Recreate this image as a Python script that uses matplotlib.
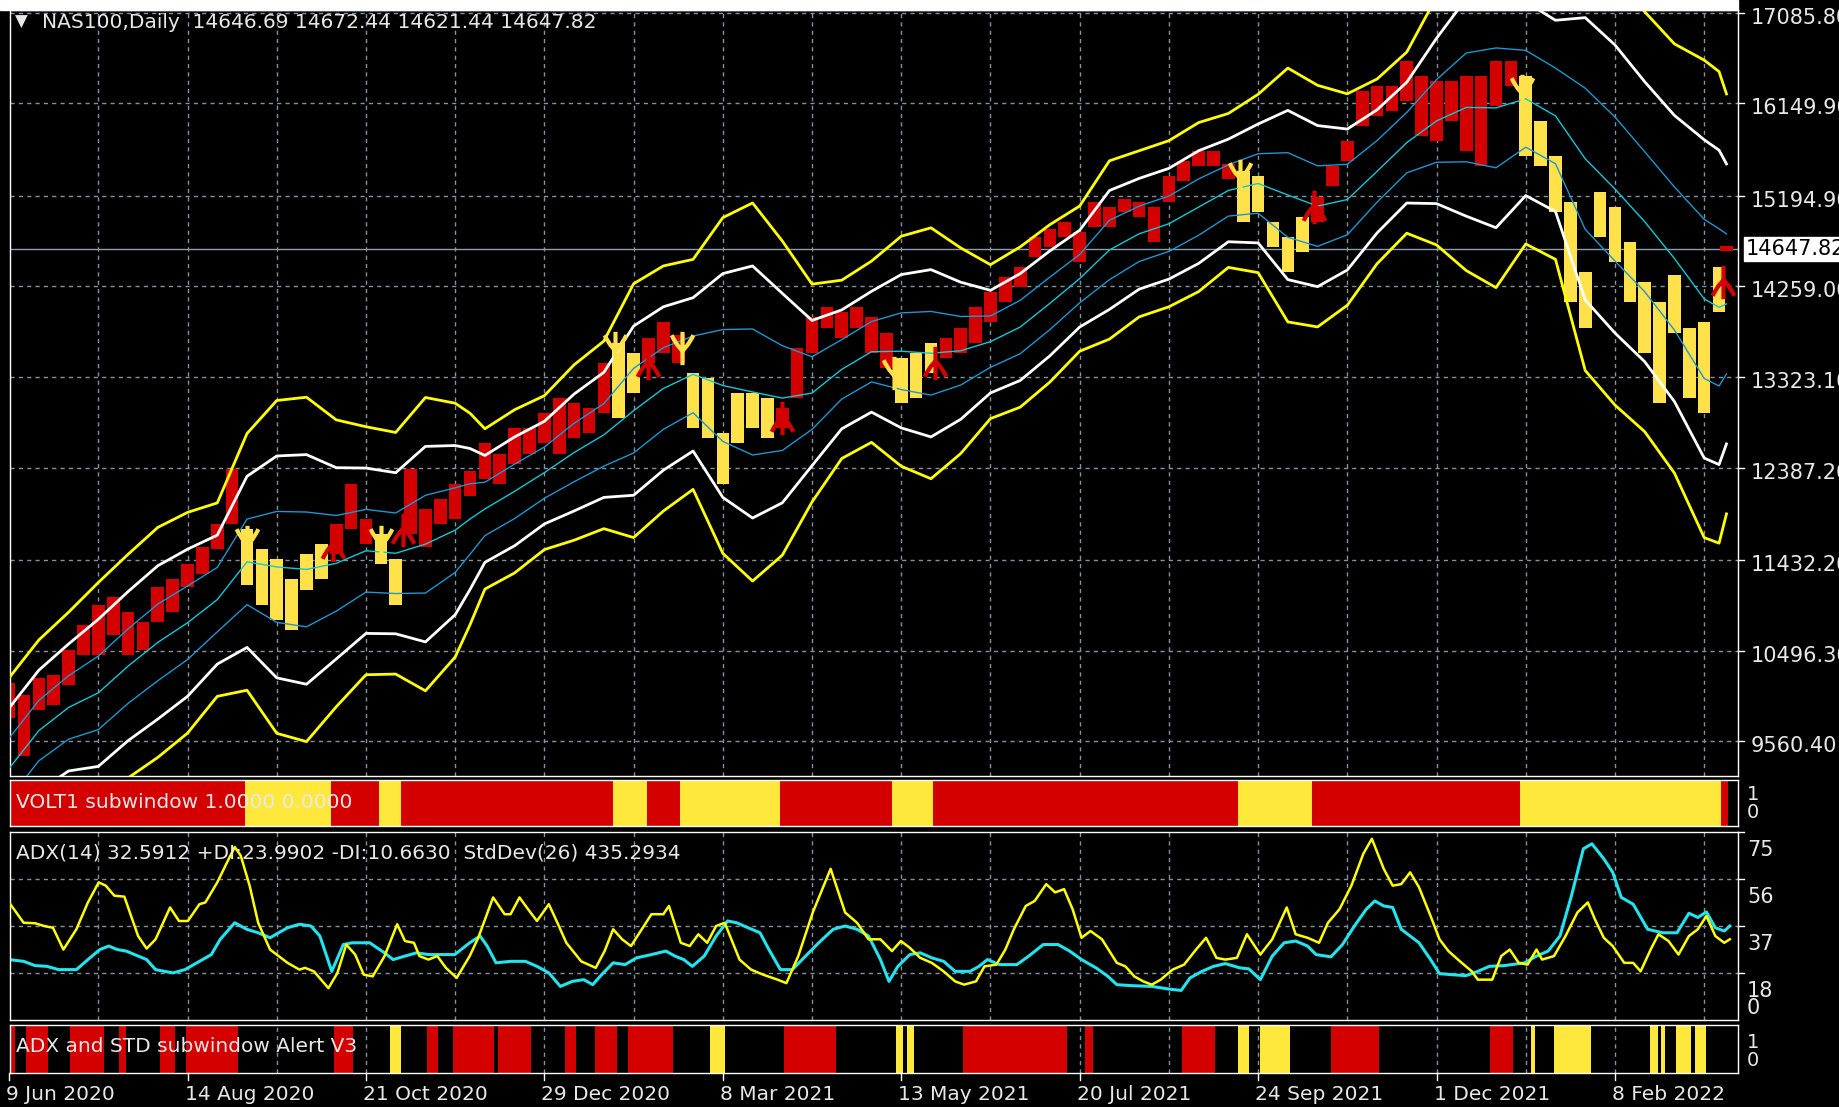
import numpy as np
import matplotlib.pyplot as plt
from matplotlib.path import Path
from matplotlib.transforms import offset_copy, blended_transform_factory
from matplotlib.patches import Rectangle

plt.rcParams['font.family'] = ['DejaVu Sans']

W, H = 1840, 1107

# ---- main window: band centre line and band spacing ----
band_bar = [0, 8, 16, 24, 32, 40, 48, 56, 64, 72, 80, 88, 96, 104, 112, 120, 124, 128,
            136, 144, 152, 160, 168, 176, 184, 192, 200, 208, 216, 224, 232, 240, 248,
            256, 264, 272, 280, 288, 296, 304, 312, 320, 328, 336, 344, 352, 360, 368,
            376, 384, 392, 400, 408, 416, 424, 432, 440, 448, 456, 460, 462]
band_mid = [9279, 9670, 9909, 10060, 10336, 10581, 10784, 11023, 11413, 11361, 11335,
            11398, 11528, 11502, 11596, 11741, 11856, 11960, 12142, 12335, 12543, 12725,
            12975, 13204, 13350, 13235, 13168, 13105, 13157, 13402, 13584, 13589, 13568,
            13594, 13688, 13839, 14084, 14339, 14635, 14802, 14906, 15078, 15250, 15322,
            15203, 15088, 15156, 15447, 15744, 15968, 16108, 16103, 16197, 16020, 15577,
            15265, 14927, 14547, 14130, 14042, 14078]
band_dev = [312, 312, 328, 380, 385, 396, 380, 333, 442, 573, 593, 494, 427, 416, 505,
            437, 364, 276, 281, 265, 302, 323, 437, 422, 396, 578, 651, 541, 375, 307,
            312, 396, 432, 354, 265, 276, 271, 250, 307, 286, 286, 291, 265, 307, 437,
            416, 364, 318, 312, 427, 562, 619, 500, 494, 729, 744, 723, 739, 822, 812, 723]

# price bars (every 4th bar), high / low
bar_x = list(range(0, 461, 4)) + [462]
bar_hi = [10164, 10034, 10216, 10242, 10503, 10763, 10971, 11049, 10893, 10789, 11153,
          11231, 11387, 11570, 11804, 12376, 11752, 11543, 11439, 11231, 11492, 11596,
          11804, 12220, 11856, 11700, 11439, 12376, 11960, 12064, 12220, 12350, 12637,
          12532, 12793, 12793, 12949, 13105, 13053, 13001, 13469, 13677, 13573, 13730,
          13886, 13756, 13365, 13313, 12741, 13157, 13157, 13105, 13001, 13625, 13938,
          14042, 13990, 14042, 13938, 13782, 13521, 13573, 13677, 13730, 13834, 14042,
          14198, 14354, 14458, 14771, 14849, 14927, 14823, 15135, 15083, 15161, 15135,
          15083, 15395, 15551, 15656, 15656, 15525, 15447, 15395, 14927, 14771, 14979,
          15187, 15499, 15760, 16280, 16332, 16332, 16592, 16436, 16384, 16384, 16436,
          16436, 16592, 16592, 16436, 15968, 15603, 15135, 14406, 15239, 15083, 14719,
          14302, 14094, 14380, 13834, 13886, 14458, 14672]
bar_lo = [9800, 9409, 9878, 9930, 10138, 10451, 10451, 10659, 10451, 10503, 10789,
          10893, 11153, 11283, 11544, 11804, 11179, 10971, 10815, 10711, 11127, 11231,
          11492, 11752, 11596, 11387, 10971, 11700, 11570, 11804, 11856, 12090, 12272,
          12220, 12428, 12532, 12637, 12532, 12689, 12741, 12949, 12897, 13157, 13469,
          13573, 13469, 12793, 12689, 12220, 12637, 12793, 12689, 12793, 13105, 13573,
          13834, 13730, 13834, 13573, 13417, 13053, 13105, 13365, 13521, 13573, 13677,
          13886, 14094, 14250, 14563, 14667, 14771, 14510, 14875, 14875, 15031, 14979,
          14719, 15135, 15343, 15499, 15499, 15369, 14927, 15031, 14667, 14406, 14615,
          14927, 15291, 15551, 15916, 16020, 16072, 16176, 15812, 15760, 15968, 15656,
          15499, 16124, 16332, 15603, 15499, 15031, 14094, 13834, 14771, 14510, 14094,
          13573, 13053, 13782, 13105, 12949, 13990, 14621]

last_price = 14647.82
price_ticks = [17085.80, 16149.90, 15194.90, 14259.00, 13323.10, 12387.20, 11432.20,
               10496.30, 9560.40]

dn_bar = [64, 100, 163, 181, 238, 331, 407]
dn_val = [11621, 11621, 13625, 13625, 13365, 15400, 16280]
up_bar = [87, 106, 172, 208, 249, 351, 461]
up_val = [11585, 11741, 13469, 12897, 13469, 15083, 14302]

# ---- VOLT1 subwindow state ----
volt_start = [0, 64, 87, 100, 106, 163, 172, 181, 208, 238, 249, 331, 351, 407, 461]
volt_end = [63, 86, 99, 105, 162, 171, 180, 207, 237, 248, 330, 350, 406, 460, 462]
volt_col = ['r', 'y', 'r', 'y', 'r', 'y', 'r', 'y', 'r', 'y', 'r', 'y', 'r', 'y', 'r']

# ---- ADX / StdDev subwindow ----
adx_x = [0, 3.9, 7.0, 9.4, 11.8, 14.6, 18.1, 21.2, 24.1, 26.0, 28.3, 31.0, 34.7, 37.0,
         39.4, 43.3, 45.7, 48.1, 51.2, 52.8, 56.0, 59.1, 60.7, 62.3, 64.7, 67.0, 70.2,
         74.9, 78.1, 79.6, 82.0, 85.9, 88.3, 90.7, 93.1, 95.4, 97.8, 101.0, 104.4, 106.5,
         108.9, 110.4, 112.8, 115.2, 117.5, 120.4, 123.9, 126.2, 130.2, 133.3, 134.9,
         137.3, 139.6, 142.0, 145.2, 147.5, 149.9, 153.9, 157.8, 160.2, 162.5, 164.9,
         167.3, 169.6, 172.8, 176.0, 177.5, 180.7, 183.1, 185.4, 187.8, 190.2, 192.5,
         196.5, 199.6, 202.8, 206.7, 209.1, 212.3, 216.2, 221.0, 224.9, 228.1, 231.2,
         234.4, 237.5, 239.9, 242.3,
         245.1, 248.2, 251.4, 254.5, 256.9, 260.1, 262.4, 265.6, 268.0, 270.3, 273.5,
         275.9, 279.0, 281.4, 283.8, 286.1, 288.5, 290.9, 294.0, 298.0, 300.3, 302.7,
         305.1, 307.4, 309.8, 313.0, 316.1, 319.3, 322.0, 324.8, 327.2, 330.3, 333.0,
         336.6, 339.8, 343.7, 346.1, 349.3, 352.4, 354.8, 357.9, 361.1, 364.3, 366.6,
         369.8, 372.2, 374.5, 376.9, 379.3, 382.4, 384.8, 387.2, 390.3, 393.5, 395.1,
         399.0, 401.4, 403.7, 406.1, 408.5, 410.9, 412.4, 415.6, 418.7, 421.9, 424.7,
         426.6, 429.0, 431.4, 434.5, 436.9, 438.9, 441.6, 443.7, 446.4, 449.1, 451.9,
         454.3, 456.6, 459.0, 461.4, 462.9]
adx_y = [46.9, 38.8, 38.6, 37.5, 36.8, 28.1, 36.2, 46.9, 54.9, 53.6, 49.6, 49.2, 33.5,
         28.5, 32.2, 44.9, 39.5, 39.5, 46.2, 46.9, 54.9, 64.3, 69.0, 65.6, 53.6, 38.8,
         28.1, 22.8, 20.1, 20.8, 19.4, 12.7, 18.7, 30.1, 26.1, 18.1, 17.4, 25.5, 38.2,
         31.5, 30.8, 25.5, 24.1, 25.5, 20.8, 16.8, 25.5, 32.8, 48.9, 42.2, 42.2, 48.9,
         44.2, 39.5, 46.2, 38.8, 30.8, 23.4, 20.8, 27.5, 36.2, 32.2, 29.5, 34.8, 42.2,
         42.2, 45.5, 30.8, 29.5, 34.2, 30.8, 37.5, 38.8, 24.1, 20.1, 18.1, 16.1, 14.7,
         25.5, 42.9, 60.3, 42.9, 38.8, 32.2, 32.2, 27.5, 31.5, 28.8,
         24.8, 22.8, 19.4, 15.4, 14.1, 15.4, 21.4, 22.1, 28.1, 36.2, 45.5, 47.5, 54.2,
         50.9, 52.2, 44.2, 32.8, 35.5, 32.2, 22.8, 21.4, 17.4, 15.4, 14.1, 16.1, 20.1,
         22.1, 28.1, 32.8, 24.8, 24.1, 24.8, 34.2, 26.1, 32.2, 44.9, 34.2, 32.8, 30.8,
         38.8, 44.2, 53.6, 66.3, 72.3, 60.3, 53.6, 54.2, 58.9, 52.9, 41.5, 32.2, 27.5,
         23.4, 19.4, 16.1, 16.1, 25.5, 28.1, 22.8, 22.1, 28.1, 24.1, 25.5, 33.5, 42.9,
         46.9, 40.2, 32.8, 29.5, 22.8, 22.8, 19.4, 28.1, 34.2, 31.5, 26.1, 33.5, 36.2,
         41.5, 33.5, 30.8, 32.2]
std_x = [0, 3.9, 7.0, 10.2, 13.3, 18.1, 21.2, 24.4, 26.8, 29.1, 31.5, 34.7, 37.0, 39.4,
         41.8, 44.1, 47.3, 51.2, 54.4, 56.8, 60.7, 63.9, 67.0, 70.2, 72.5, 74.9, 78.1,
         81.2, 83.6, 86.8, 89.9, 92.3, 97.0, 101.0, 103.3, 106.5, 109.6, 112.8, 115.9,
         119.9, 123.9, 126.7, 128.6, 131.0, 134.9, 138.9, 142.0, 145.2, 148.3, 151.5,
         154.6, 157.0, 159.4, 162.5, 165.7, 168.8, 172.8, 176.7, 179.1, 181.5, 183.8,
         187.0, 190.2, 193.3, 195.7, 198.8, 202.0, 204.4, 207.5, 210.7, 213.8, 217.8,
         221.7, 224.9, 228.1, 231.2, 234.4, 236.7, 239.1, 242.3,
         245.1, 248.2, 251.4, 254.5, 258.5, 260.9, 263.2, 266.4, 271.1, 274.3, 278.2,
         282.2, 285.3, 288.5, 292.4, 295.6, 298.0, 301.9, 307.4, 312.2, 315.3, 317.7,
         320.9, 324.0, 327.2, 331.1, 333.5, 336.6, 339.8, 343.0, 346.1, 349.3, 351.6,
         355.6, 358.7, 361.9, 365.1, 367.4, 369.8, 372.2, 374.5, 379.3, 382.4, 384.8,
         387.9, 391.9, 395.1, 398.2, 402.2, 407.7, 410.9, 414.0, 417.2, 420.3, 423.5,
         425.8, 429.0, 431.4, 433.7, 436.9, 440.8, 444.8, 448.7, 451.9, 454.3, 456.6,
         459.0, 461.4, 462.9]
std_y = [24.1, 23.4, 21.7, 21.4, 20.1, 20.1, 24.1, 28.1, 29.5, 28.1, 27.5, 25.5, 24.1,
         20.1, 19.4, 18.8, 20.1, 23.4, 26.1, 32.2, 38.8, 36.2, 34.8, 32.8, 34.8, 36.8,
         38.2, 37.5, 33.5, 19.4, 30.1, 30.8, 30.8, 26.8, 24.1, 25.5, 26.8, 26.1, 26.1,
         26.1, 30.8, 33.5, 29.5, 22.8, 23.4, 23.4, 21.4, 18.8, 13.4, 15.4, 16.1, 14.1,
         18.1, 22.8, 22.1, 24.8, 26.1, 27.5, 25.5, 24.1, 21.4, 25.5, 33.5, 39.5, 38.8,
         36.8, 34.8, 28.1, 20.1, 20.1, 24.8, 30.8, 36.2, 37.5, 36.2, 33.5, 24.1, 15.4,
         21.4, 26.1,
         26.8, 24.8, 23.4, 19.4, 19.4, 21.4, 24.1, 22.1, 22.1, 25.5, 30.1, 30.1, 27.5,
         24.1, 20.8, 17.4, 14.1, 13.7, 13.4, 12.3, 11.8, 16.8, 19.4, 21.4, 22.5, 20.8,
         20.4, 16.1, 25.5, 30.8, 31.5, 29.5, 26.1, 25.2, 30.1, 37.5, 44.2, 47.5, 45.5,
         44.9, 36.2, 30.8, 24.1, 18.5, 18.1, 17.7, 19.4, 21.4, 21.7, 22.8, 25.5, 27.5,
         33.5, 49.6, 68.3, 70.3, 64.3, 58.9, 48.9, 46.2, 36.2, 34.8, 34.8, 42.6, 40.9,
         43.1, 36.8, 35.5, 37.5]

# ---- alert subwindow ----
alert_start = [0, 5, 17, 30, 41, 48, 88, 103, 113, 120, 132, 150, 158, 167, 189, 209,
               239, 242, 257, 290, 316, 331, 337, 356, 399, 410, 416, 442, 445, 449, 454]
alert_end = [1, 10, 25, 31, 44, 61, 92, 105, 115, 130, 140, 152, 163, 178, 192, 222,
             240, 243, 284, 291, 324, 333, 344, 368, 404, 410, 425, 443, 445, 452, 456]
alert_col = ['r', 'r', 'r', 'r', 'r', 'r', 'r', 'y', 'r', 'r', 'r', 'r', 'r', 'r', 'y',
             'r', 'y', 'y', 'r', 'r', 'r', 'y', 'y', 'r', 'r', 'y', 'y', 'y', 'y', 'y', 'y']

date_bars = [0, 48, 96, 144, 192, 240, 288, 336, 384, 432]
date_labels = ['9 Jun 2020', '14 Aug 2020', '21 Oct 2020', '29 Dec 2020', '8 Mar 2021',
               '13 May 2021', '20 Jul 2021', '24 Sep 2021', '1 Dec 2021', '8 Feb 2022']

RED = '#d40000'
YEL = '#ffe83c'
BARYEL = '#ffe14a'
GRID = '#86909e'
TXT = '#e8e8e8'
pal = {'r': RED, 'y': YEL}

fig = plt.figure(figsize=(W / 100, H / 100), dpi=100, facecolor='black')


def box(x0, y0, x1, y1):
    # pixel box (top-left origin) -> figure fraction
    return [x0 / W, 1 - y1 / H, (x1 - x0) / W, (y1 - y0) / H]


ax = fig.add_axes(box(10, 10, 1738, 776))
ax_v = fig.add_axes(box(10, 780, 1738, 826))
ax_a = fig.add_axes(box(10, 832, 1738, 1020))
ax_s = fig.add_axes(box(10, 1025, 1738, 1073))

XL = (0.24, 465.1)
for a in (ax, ax_v, ax_a, ax_s):
    a.set_facecolor('black')
    a.set_xlim(*XL)
    for s in a.spines.values():
        s.set_color('white')
        s.set_linewidth(1)
    a.set_xticks([])
    a.set_yticks([])

grid_bars = np.arange(24, 465, 24)
dash = (0, (3, 3))

# ---- main window ----
ax.set_ylim(9201, 17114)
for b in grid_bars:
    ax.axvline(b, color=GRID, lw=1, ls=dash, zorder=1)
for p in price_ticks:
    ax.axhline(p, color=GRID, lw=1, ls=dash, zorder=1)
ax.axhline(last_price, color='#8a9bb3', lw=1, zorder=1)

bar_state = {}
for s, e, c in zip(volt_start, volt_end, volt_col):
    for i in range(s, e + 1):
        bar_state[i] = c
bar_cols = [RED if bar_state[b] == 'r' else BARYEL for b in bar_x]
hi = np.array(bar_hi)
lo = np.array(bar_lo)
ax.bar(bar_x, hi - lo, bottom=lo, width=3.4, color=bar_cols, linewidth=0, zorder=2)

mid = np.array(band_mid)
dev = np.array(band_dev)
ax.plot(band_bar, mid + 3 * dev, color='#ffff00', lw=2.0, zorder=3)
ax.plot(band_bar, mid - 3 * dev, color='#ffff00', lw=2.0, zorder=3)
ax.plot(band_bar, mid + 2 * dev, color='white', lw=2.0, zorder=3)
ax.plot(band_bar, mid - 2 * dev, color='white', lw=2.0, zorder=3)
ax.plot(band_bar, mid + dev, color='#1e96d2', lw=1.0, zorder=3)
ax.plot(band_bar, mid - dev, color='#1e96d2', lw=1.0, zorder=3)
ax.plot(band_bar, mid, color='#14c8d8', lw=1.0, zorder=3)

# arrow markers
arm = [(0.0, 0.15), (-0.3, -0.2), (-0.55, -0.6), (-0.65, -0.8)]
verts = [(0, 1), (0, -1)] + arm + [(0.0, 0.15), (0.3, -0.2), (0.55, -0.6), (0.65, -0.8)]
codes = [Path.MOVETO, Path.LINETO,
         Path.MOVETO, Path.LINETO, Path.LINETO, Path.LINETO,
         Path.MOVETO, Path.LINETO, Path.LINETO, Path.LINETO]
up_mark = Path(verts, codes)
dn_mark = Path([(x, -y) for x, y in verts], codes)
ax.plot(up_bar, up_val, ls='none', marker=up_mark, ms=24, mec=RED, mfc='none',
        mew=3, zorder=4)
ax.plot(dn_bar, dn_val, ls='none', marker=dn_mark, ms=24, mec=BARYEL, mfc='none',
        mew=3, zorder=4)

# right price scale
ytr = ax.get_yaxis_transform()
lab_tr = offset_copy(ytr, fig=fig, x=13, y=-5, units='dots')
for p in price_ticks:
    ax.text(1.0, p, f'{p:.2f}', transform=lab_tr, color=TXT, fontsize=15,
            va='center', ha='left', clip_on=False)
    ax.plot([1.0, 1.0035], [p, p], transform=ytr, color='white', lw=1, clip_on=False)
ax.text(1.0, last_price, f'{last_price:.2f}',
        transform=offset_copy(ytr, fig=fig, x=8, y=0, units='dots'),
        color='black', fontsize=15, va='center', ha='left', clip_on=False,
        bbox=dict(facecolor='white', edgecolor='white', pad=1.5))

fig.text(15 / W, 1 - 22 / H, '\u25bc', color=TXT, fontsize=12, va='center')
fig.text(42 / W, 1 - 22 / H, 'NAS100,Daily  14646.69 14672.44 14621.44 14647.82',
         color=TXT, fontsize=14.5, va='center')
fig.patches.append(Rectangle((0, 1 - 10 / H), 1738 / W, 10 / H,
                             transform=fig.transFigure, color='white', zorder=0))

# ---- VOLT1 ----
ax_v.set_ylim(0, 1)
for s, e, c in zip(volt_start, volt_end, volt_col):
    ax_v.axvspan(s - 0.5, e + 0.5, color=pal[c], lw=0)
fig.text(16 / W, 1 - 803 / H, 'VOLT1 subwindow 1.0000 0.0000',
         color=TXT, fontsize=14.5, va='center')
fig.text(1747 / W, 1 - 795 / H, '1', color=TXT, fontsize=14, va='center')
fig.text(1747 / W, 1 - 813 / H, '0', color=TXT, fontsize=14, va='center')

# ---- ADX / StdDev ----
ax_a.set_ylim(0, 75)
for b in grid_bars:
    ax_a.axvline(b, color=GRID, lw=1, ls=dash, zorder=1)
for v in (18.75, 37.5, 56.25):
    ax_a.axhline(v, color=GRID, lw=1, ls=dash, zorder=1)
ax_a.plot(adx_x, adx_y, color='#ffff00', lw=1.8, zorder=3)
ax_a.plot(std_x, std_y, color='#22e4ee', lw=2.2, zorder=2)
fig.text(16 / W, 1 - 853 / H,
         'ADX(14) 32.5912 +DI:23.9902 -DI:10.6630  StdDev(26) 435.2934',
         color=TXT, fontsize=14.5, va='center')
atr = ax_a.get_yaxis_transform()
for v, t in zip((75, 56.25, 37.5, 18.75), ('75', '56', '37', '18')):
    ax_a.text(1.0, v, t, transform=offset_copy(atr, fig=fig, x=9, y=-18, units='dots'),
              color=TXT, fontsize=15, va='center', clip_on=False)
    ax_a.plot([1.0, 1.0035], [v, v], transform=atr, color='white', lw=1, clip_on=False)
ax_a.text(1.0, 0, '0', transform=offset_copy(atr, fig=fig, x=9, y=12, units='dots'),
          color=TXT, fontsize=15, va='center', clip_on=False)

# ---- alert window ----
ax_s.set_ylim(0, 1)
for b in grid_bars:
    ax_s.axvline(b, color=GRID, lw=1, ls=dash, zorder=0)
for s, e, c in zip(alert_start, alert_end, alert_col):
    ax_s.axvspan(s - 0.5, e + 0.5, color=pal[c], lw=0, zorder=1)
fig.text(16 / W, 1 - 1047 / H, 'ADX and STD subwindow Alert V3',
         color=TXT, fontsize=14.5, va='center', zorder=5)
fig.text(1747 / W, 1 - 1042 / H, '1', color=TXT, fontsize=14, va='center')
fig.text(1747 / W, 1 - 1060 / H, '0', color=TXT, fontsize=14, va='center')

# time axis
xtr = blended_transform_factory(ax_s.transData, ax_s.transAxes)
for b, t in zip(date_bars, date_labels):
    ax_s.plot([b, b], [0, -0.15], transform=xtr, color='white', lw=1, clip_on=False)
    ax_s.text(b, 0, t, transform=offset_copy(xtr, fig=fig, x=-3, y=-22, units='dots'),
              color=TXT, fontsize=14.5, va='center', ha='left', clip_on=False)

fig.savefig('out.png', dpi=100, facecolor='black')
